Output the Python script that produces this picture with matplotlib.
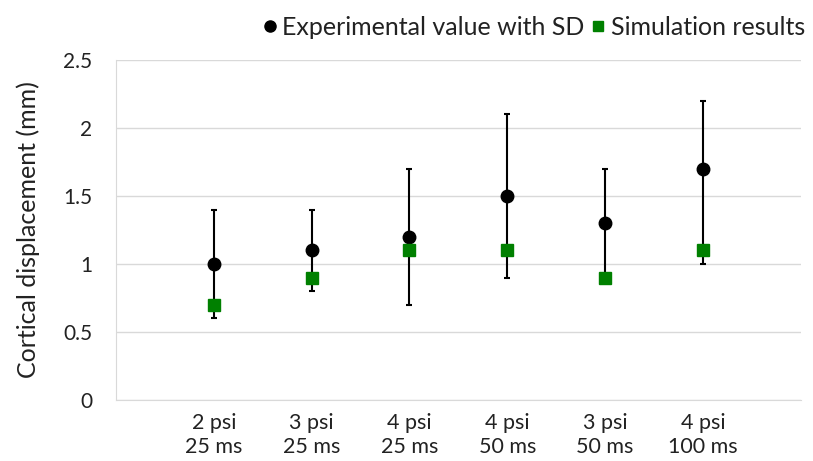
import numpy as np
import matplotlib.pyplot as plt
from matplotlib.lines import Line2D

plt.rcParams['font.family'] = ['Lato', 'DejaVu Sans']

labels = ["2 psi\n25 ms", "3 psi\n25 ms", "4 psi\n25 ms", "4 psi\n50 ms", "3 psi\n50 ms", "4 psi\n100 ms"]
exp_mean = [1.0, 1.1, 1.2, 1.5, 1.3, 1.7]
exp_low = [0.6, 0.8, 0.7, 0.9, 0.9, 1.0]
exp_high = [1.4, 1.4, 1.7, 2.1, 1.7, 2.2]
sim = [0.7, 0.9, 1.1, 1.1, 0.9, 1.1]

x = np.arange(1, len(labels) + 1)
yerr = [np.array(exp_mean) - np.array(exp_low), np.array(exp_high) - np.array(exp_mean)]
green = '#008000'

fig = plt.figure(figsize=(8.13, 4.61), dpi=100)
ax = fig.add_axes([0.1427, 0.1323, 0.8423, 0.7375])

ax.errorbar(x, exp_mean, yerr=yerr, fmt='o', color='black', ms=9, elinewidth=1.5,
	capsize=2.3, capthick=1.5, zorder=3)
ax.plot(x, sim, 's', color=green, ms=9, zorder=4)

ax.set_xlim(0, 7)
ax.set_ylim(0, 2.5)
ax.set_yticks([0, 0.5, 1, 1.5, 2, 2.5])
ax.set_yticklabels(["0", "0.5", "1", "1.5", "2", "2.5"])
ax.set_xticks(x)
ax.set_xticklabels(labels, linespacing=1.3)
ax.yaxis.grid(True, color='#d9d9d9', lw=1)
ax.set_axisbelow(True)
for s in ['top', 'right']:
	ax.spines[s].set_visible(False)
for s in ['left', 'bottom']:
	ax.spines[s].set_color('#d9d9d9')
ax.tick_params(length=0, colors='#222222')
ax.tick_params(axis='y', pad=17, labelsize=15)
ax.tick_params(axis='x', pad=9, labelsize=15.5)
ax.set_ylabel("Cortical displacement (mm)", fontsize=18, color='#222222', labelpad=17)

h = [Line2D([], [], ls='none', marker='o', color='black', ms=8),
	Line2D([], [], ls='none', marker='s', color=green, ms=7.5)]
l = ["Experimental value with SD", "Simulation results"]
fig.legend(h, l, loc='upper right', bbox_to_anchor=(1.018, 1.015), ncol=2, frameon=False,
	fontsize=18, handletextpad=0.0, columnspacing=0.05, handlelength=1.0, labelcolor='#222222')

fig.savefig("out.png", dpi=100)
